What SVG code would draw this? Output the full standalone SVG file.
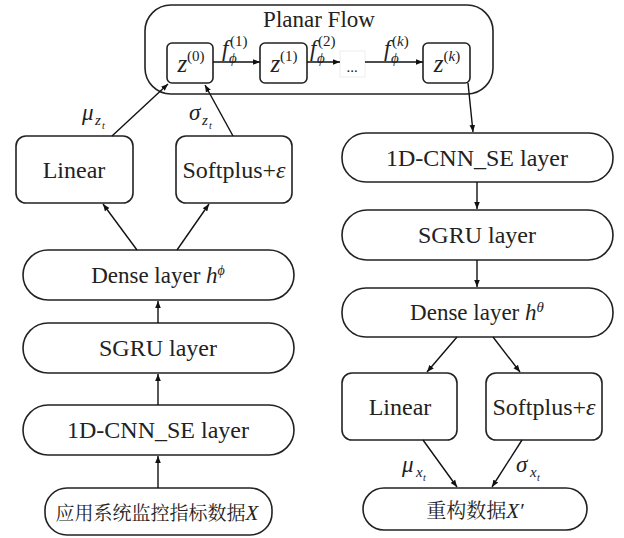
<svg xmlns="http://www.w3.org/2000/svg" width="624" height="538" viewBox="0 0 624 538">
<defs>
<marker id="ah" viewBox="0 0 10 10" refX="10" refY="5" markerWidth="7" markerHeight="7" markerUnits="userSpaceOnUse" orient="auto">
<path d="M0,1 L10,5 L0,9 z" fill="#111"/>
</marker>
</defs>
<style>
.b{fill:#fff;stroke:#222;stroke-width:1.6}
.t{font-family:"Liberation Serif","Noto Serif CJK SC",serif;font-size:24px;fill:#222;text-anchor:middle}
.l{font-family:"Liberation Serif",serif;fill:#222}
.i{font-style:italic}
.c{stroke:#111;stroke-width:1.4;fill:none;marker-end:url(#ah)}
</style>
<rect width="624" height="538" fill="#fff"/>
<g id="planar-flow">
<rect class="b" x="145" y="5" width="348" height="89" rx="26"/>
<text class="t" x="319" y="27" style="font-size:23px">Planar Flow</text>
</g>
<g id="z0"><rect class="b" x="167" y="43" width="46" height="40" rx="5"/>
<text class="t" x="191" y="72"><tspan class="i" style="font-size:25px">z</tspan><tspan dy="-11" style="font-size:15px">(0)</tspan></text></g>
<g id="z1"><rect class="b" x="260" y="43" width="47" height="40" rx="5"/>
<text class="t" x="284" y="72"><tspan class="i" style="font-size:25px">z</tspan><tspan dy="-11" style="font-size:15px">(1)</tspan></text></g>
<g id="zdots"><rect x="340" y="51" width="25" height="26" fill="#fff" stroke="#eee" stroke-width="1"/>
<text class="t" x="352" y="72" style="font-size:15px">...</text></g>
<g id="zk"><rect class="b" x="423" y="43" width="47" height="40" rx="5"/>
<text class="t" x="447" y="72"><tspan class="i" style="font-size:25px">z</tspan><tspan dy="-11" style="font-size:15px">(<tspan class="i">k</tspan>)</tspan></text></g>

<g id="l-linear"><rect class="b" x="16" y="136" width="117" height="67" rx="10"/><text class="t" x="74" y="178">Linear</text></g>
<g id="l-softplus"><rect class="b" x="176" y="136" width="116" height="67" rx="10"/><text class="t" x="234" y="178">Softplus+<tspan class="i">ε</tspan></text></g>
<g id="l-dense"><rect class="b" x="23" y="250" width="271" height="50" rx="25"/><text class="t" x="158" y="283" style="font-size:23px">Dense layer <tspan class="i">h</tspan><tspan dy="-8" class="i" style="font-size:14px">ϕ</tspan></text></g>
<g id="l-sgru"><rect class="b" x="23" y="323" width="271" height="50" rx="25"/><text class="t" x="158" y="356">SGRU layer</text></g>
<g id="l-cnn"><rect class="b" x="23" y="405" width="271" height="50" rx="25"/><text class="t" x="158" y="438">1D-CNN_SE layer</text></g>
<g id="l-input"><rect class="b" x="45" y="488" width="227" height="47" rx="22"/><text class="t" x="157" y="520" style="font-size:19px">应用系统监控指标数据<tspan class="i" style="font-size:21px">X</tspan></text></g>

<g id="r-cnn"><rect class="b" x="342" y="133" width="271" height="49" rx="24"/><text class="t" x="477" y="166">1D-CNN_SE layer</text></g>
<g id="r-sgru"><rect class="b" x="342" y="210" width="271" height="50" rx="25"/><text class="t" x="477" y="243">SGRU layer</text></g>
<g id="r-dense"><rect class="b" x="342" y="288" width="271" height="49" rx="24"/><text class="t" x="477" y="320" style="font-size:23px">Dense layer <tspan class="i">h</tspan><tspan dy="-8" class="i" style="font-size:15px">θ</tspan></text></g>
<g id="r-linear"><rect class="b" x="342" y="373" width="115" height="67" rx="10"/><text class="t" x="400" y="415">Linear</text></g>
<g id="r-softplus"><rect class="b" x="486" y="373" width="116" height="67" rx="10"/><text class="t" x="544" y="415">Softplus+<tspan class="i">ε</tspan></text></g>
<g id="r-recon"><rect class="b" x="363" y="488" width="224" height="42" rx="21"/><text class="t" x="475" y="518" style="font-size:20px">重构数据<tspan class="i" style="font-size:21px">X′</tspan></text></g>

<g id="connectors">
<path class="c" d="M213,62 L260,62"/>
<path class="c" d="M307,62 L340,62"/>
<path class="c" d="M365,62 L423,62"/>
<path class="c" d="M137,250 L103,204"/>
<path class="c" d="M177,250 L209,204"/>
<path class="c" d="M112,136 L168,84"/>
<path class="c" d="M233,136 L205,85"/>
<path class="c" d="M158,323 L158,301"/>
<path class="c" d="M158,405 L158,374"/>
<path class="c" d="M158,488 L158,456"/>
<path class="c" d="M468,83 L473,132"/>
<path class="c" d="M477,182 L477,209"/>
<path class="c" d="M477,260 L477,287"/>
<path class="c" d="M457,337 L427,372"/>
<path class="c" d="M493,337 L520,372"/>
<path class="c" d="M423,440 L457,487"/>
<path class="c" d="M522,440 L492,487"/>
</g>
<g id="labels">
<text class="l i" x="222" y="56" style="font-size:23px">f</text>
<text class="l i" x="229" y="63" style="font-size:15px">ϕ</text>
<text class="l" x="230" y="46" style="font-size:15px">(1)</text>
<text class="l i" x="310" y="56" style="font-size:23px">f</text>
<text class="l i" x="317" y="63" style="font-size:15px">ϕ</text>
<text class="l" x="318" y="46" style="font-size:15px">(2)</text>
<text class="l i" x="384" y="56" style="font-size:23px">f</text>
<text class="l i" x="391" y="63" style="font-size:15px">ϕ</text>
<text class="l" x="392" y="46" style="font-size:15px">(<tspan class="i">k</tspan>)</text>
<text class="l i" x="82" y="120" style="font-size:23px">μ</text>
<text class="l i" x="95" y="125" style="font-size:15px">z</text>
<text class="l i" x="102" y="129" style="font-size:10px">t</text>
<text class="l i" x="189" y="120" style="font-size:23px">σ</text>
<text class="l i" x="202" y="125" style="font-size:15px">z</text>
<text class="l i" x="209" y="129" style="font-size:10px">t</text>
<text class="l i" x="402" y="472" style="font-size:23px">μ</text>
<text class="l i" x="416" y="477" style="font-size:15px">x</text>
<text class="l i" x="423" y="481" style="font-size:10px">t</text>
<text class="l i" x="516" y="472" style="font-size:23px">σ</text>
<text class="l i" x="530" y="477" style="font-size:15px">x</text>
<text class="l i" x="537" y="481" style="font-size:10px">t</text>
</g>
</svg>
